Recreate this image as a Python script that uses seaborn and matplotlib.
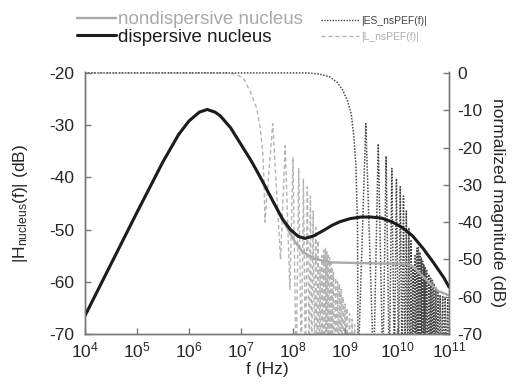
import numpy as np
import matplotlib
matplotlib.use("Agg")
import matplotlib.pyplot as plt
import seaborn as sns
from matplotlib.lines import Line2D

# ---- data (log10 of frequency in Hz, values in dB) ----
# nucleus responses, left axis
disp_logf = [4.0, 4.5, 5.0, 5.5, 5.8, 6.0, 6.2, 6.35, 6.5, 6.6, 6.8, 7.0, 7.2, 7.4,
             7.6, 7.8, 7.95, 8.1, 8.23, 8.4, 8.58, 8.75, 8.9, 9.1, 9.3, 9.5, 9.7,
             9.9, 10.1, 10.3, 10.5, 10.7, 10.9, 11.0]
disp_db = [-66.5, -56.6, -46.7, -37.0, -31.8, -29.2, -27.5, -27.0, -27.5, -28.2, -30.5,
           -33.7, -36.9, -40.5, -44.3, -48.0, -50.0, -51.3, -51.7, -51.2, -50.2, -49.2,
           -48.5, -47.9, -47.6, -47.6, -47.8, -48.5, -49.6, -51.2, -53.6, -56.3, -59.2, -61.0]

nondisp_logf = [4.0, 4.5, 5.0, 5.5, 5.8, 6.0, 6.2, 6.35, 6.5, 6.6, 6.8, 7.0, 7.2, 7.4,
                7.6, 7.8, 7.95, 8.05, 8.19, 8.42, 8.75, 9.25, 9.8, 10.2, 10.3, 10.4,
                10.6, 10.8, 11.0]
nondisp_db = [-66.5, -56.6, -46.7, -37.0, -31.8, -29.2, -27.5, -27.0, -27.5, -28.2, -30.5,
              -33.7, -36.9, -40.5, -44.3, -48.2, -50.8, -52.5, -54.3, -55.6, -56.3, -56.4,
              -56.5, -56.6, -57.0, -58.0, -60.0, -61.8, -62.6]

# |ES_nsPEF(f)|, right axis: main lobe, then side-lobe nulls and peaks
es_main_logf = [4.0, 8.3, 8.5, 8.7, 8.85, 8.95, 9.05, 9.12, 9.17, 9.21, 9.24]
es_main_db = [0.0, 0.0, -0.3, -1.0, -2.5, -4.5, -7.5, -11.0, -17.0, -25.0, -40.0]
es_nulls = [9.25, 9.551, 9.728, 9.852, 9.949, 10.029, 10.096, 10.153, 10.205, 10.25,
            10.292, 10.33, 10.364, 10.397, 10.427, 10.455, 10.481, 10.506, 10.529,
            10.551, 10.593, 10.631, 10.665, 10.698, 10.728, 10.769, 10.807, 10.852,
            10.904, 10.949, 11.0]
es_floor = [-80.0] * len(es_nulls)
es_peaks = [-13.6, -19.0, -22.3, -25.6, -28.3, -30.5, -33.0, -37.0, -41.5, -45.0, -52.0,
            -49.0, -47.0, -46.8, -48.0, -49.5, -50.5, -51.5, -52.0, -53.0, -54.0, -55.0,
            -55.6, -56.5, -57.5, -58.5, -59.5, -60.0, -60.3, -60.5]

# |L_nsPEF(f)|, right axis
l_main_logf = [4.0, 6.7, 6.9, 7.05, 7.17, 7.3, 7.37, 7.42, 7.45]
l_main_db = [0.0, 0.0, -0.3, -1.5, -4.8, -9.4, -14.7, -21.6, -32.0]
l_nulls = [7.46, 7.76, 7.94, 8.06, 8.16, 8.24, 8.31, 8.36, 8.415, 8.46, 8.50, 8.54,
           8.575, 8.61, 8.64, 8.665, 8.69, 8.715, 8.74, 8.76, 8.80, 8.84, 8.875, 8.91,
           8.94, 8.98, 9.02, 9.06, 9.115, 9.16, 9.21]
l_floor = [-40.0, -50.0, -58.0] + [-80.0] * (len(l_nulls) - 3)
l_peaks = [-13.6, -19.5, -22.7, -25.6, -28.3, -30.5, -33.0, -37.0, -41.5, -45.0, -52.0,
           -49.0, -47.5, -47.0, -48.0, -49.0, -49.5, -51.0, -52.0, -53.5, -55.0, -56.0,
           -56.5, -58.0, -60.0, -62.0, -63.0, -64.5, -66.0, -67.5]

left_ticks = [-70, -60, -50, -40, -30, -20]
right_ticks = [-70, -60, -50, -40, -30, -20, -10, 0]
x_ticks = [4, 5, 6, 7, 8, 9, 10, 11]

GRAY = "#a9a9a9"
BLACK = "#1c1c1c"
DOT = "#484848"
DASH = "#b4b4b4"
SPINE = "#777777"


def lobe_trace(main_logf, main_db, nulls, floors, peaks):
    xs = list(main_logf) + [nulls[0]]
    ys = list(main_db) + [floors[0]]
    for i, pk in enumerate(peaks):
        xs += [(nulls[i] + nulls[i + 1]) / 2, nulls[i + 1]]
        ys += [pk, floors[i + 1]]
    return 10 ** np.array(xs), np.array(ys)


sns.set_style("ticks")
plt.rcParams["font.family"] = ["Liberation Sans", "DejaVu Sans"]
plt.rcParams["axes.unicode_minus"] = False
plt.rcParams["mathtext.fontset"] = "custom"
plt.rcParams["mathtext.rm"] = "Liberation Sans"
plt.rcParams["mathtext.it"] = "Liberation Sans:italic"

fig = plt.figure(figsize=(5.12, 3.86), dpi=100)
ax = fig.add_axes([85 / 512, 1 - 334 / 386, (449 - 85) / 512, (334 - 72) / 386])
ax2 = ax.twinx()

es_x, es_y = lobe_trace(es_main_logf, es_main_db, es_nulls, es_floor, es_peaks)
l_x, l_y = lobe_trace(l_main_logf, l_main_db, l_nulls, l_floor, l_peaks)

sns.lineplot(x=l_x, y=l_y, ax=ax2, estimator=None, sort=False, color=DASH,
             linestyle=(0, (3, 2)), lw=1.0)
sns.lineplot(x=es_x, y=es_y, ax=ax2, estimator=None, sort=False, color=DOT,
             linestyle=(0, (1, 1)), lw=1.1)

sns.lineplot(x=10 ** np.array(nondisp_logf), y=nondisp_db, ax=ax, estimator=None,
             sort=False, color=GRAY, lw=1.7)
sns.lineplot(x=10 ** np.array(disp_logf), y=disp_db, ax=ax, estimator=None,
             sort=False, color=BLACK, lw=2.2)

ax.set_zorder(ax2.get_zorder() + 1)
ax.patch.set_visible(False)

for a in (ax, ax2):
    a.set_xscale("log")
    a.set_xlim(1e4, 1e11)
    a.minorticks_off()
    a.tick_params(direction="in", length=4, width=1, color=SPINE, labelsize=12.5)
    a.spines["top"].set_visible(False)
    for s in ("left", "right", "bottom"):
        a.spines[s].set_color(SPINE)
        a.spines[s].set_linewidth(1.0)

ax.set_ylim(-70, -19.82)
ax2.set_ylim(-70, 0.25)
ax.set_yticks(left_ticks)
ax2.set_yticks(right_ticks)
ax.set_xticks([10.0 ** e for e in x_ticks])
ax.tick_params(axis="y", pad=8)
ax2.tick_params(axis="y", pad=6)
ax.tick_params(axis="x", pad=5)
ax.xaxis.set_minor_locator(matplotlib.ticker.NullLocator())

ax.set_xlabel("f (Hz)", fontsize=12.5)
ax.xaxis.set_label_coords(0.5, -0.105)
ax.set_ylabel(r"$|\mathrm{H}_{\mathrm{nucleus}}(\mathrm{f})|$ (dB)", fontsize=12.5)
ax.yaxis.set_label_coords(-0.15, 0.5)
ax2.set_ylabel("normalized magnitude (dB)", fontsize=12.5, rotation=270, va="bottom")
ax2.yaxis.set_label_coords(1.113, 0.5)

leg1 = fig.legend(handles=[Line2D([], [], color=GRAY, lw=1.7),
                           Line2D([], [], color=BLACK, lw=2.2)],
                  labels=["nondispersive nucleus", "dispersive nucleus"],
                  loc="upper left", bbox_to_anchor=(77 / 512, 1 - 11 / 386),
                  frameon=False, fontsize=13.5, handlelength=2.1, handletextpad=0.1,
                  labelspacing=0.02, borderpad=0, borderaxespad=0)
for t, c in zip(leg1.get_texts(), [GRAY, BLACK]):
    t.set_color(c)

leg2 = fig.legend(handles=[Line2D([], [], color=DOT, lw=1.0, linestyle=(0, (1, 1))),
                           Line2D([], [], color=DASH, lw=1.0, linestyle=(0, (3, 2)))],
                  labels=["|ES_nsPEF(f)|", "|L_nsPEF(f)|"],
                  loc="upper left", bbox_to_anchor=(321 / 512, 1 - 16 / 386),
                  frameon=False, fontsize=7.5, handlelength=3.6, handletextpad=0.25,
                  labelspacing=0.55, borderpad=0, borderaxespad=0)
for t, c in zip(leg2.get_texts(), ["#444444", "#b0b0b0"]):
    t.set_color(c)

fig.savefig("out.png", dpi=100)
